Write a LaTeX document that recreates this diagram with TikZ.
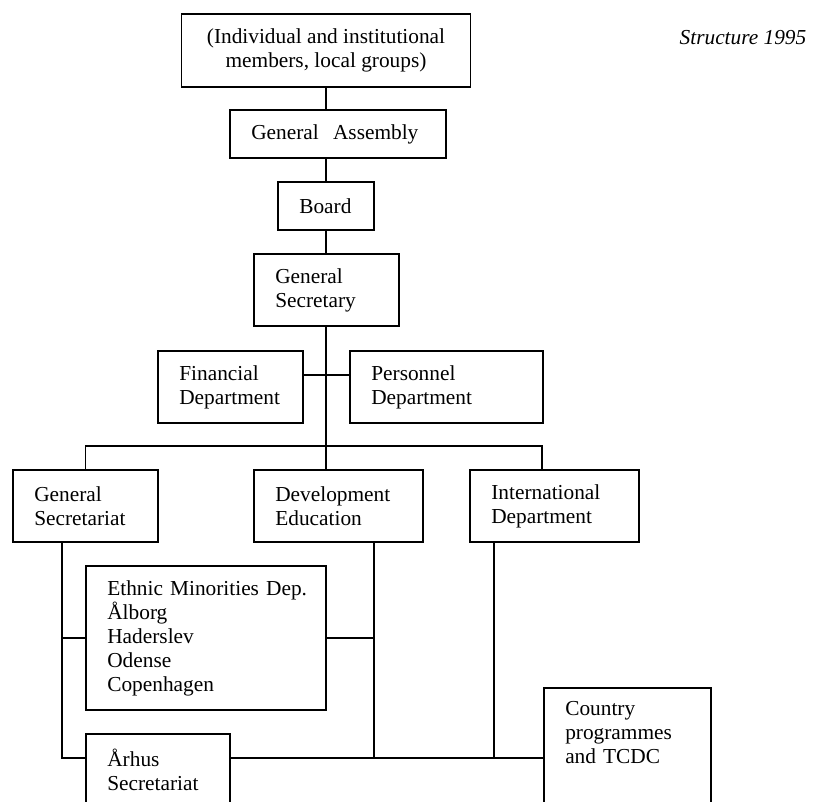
\documentclass[tikz,border=0pt]{standalone}
\usepackage{fontspec}
\setmainfont{Liberation Serif}
\usetikzlibrary{positioning}

\begin{document}
\begin{tikzpicture}[
    x=0.75pt, y=-0.75pt,
    font=\fontsize{16}{18}\selectfont,
    box/.style={draw, line width=1.4pt, align=left, inner xsep=16pt,
      inner ysep=0pt, minimum height=54pt},
    link/.style={line width=1.4pt}
]
\clip (0,0) rectangle (814,802);
\node[box, align=center, minimum width=216.75pt, minimum height=54.75pt] (mem) at (326,50.5)
  {(Individual and institutional\\members, local groups)};
\node[box, text width=130pt, minimum height=36pt] (ga)   at (338,134)   {General\ \ Assembly};
\node[box, text width=40pt, minimum height=36pt]  (brd)  at (326,206)   {Board};
\node[box, text width=76.75pt]  (gsec) at (326.5,290) {General\\Secretary};
\node[box, text width=76.75pt]  (fin)  at (230.5,387) {Financial\\Department};
\node[box, text width=112.75pt] (pers) at (446.5,387) {Personnel\\Department};
\node[box, text width=76.75pt]  (gsat) at (85.5,506)  {General\\Secretariat};
\node[box, text width=94.75pt]  (dev)  at (338.5,506) {Development\\Education};
\node[box, text width=94.75pt]  (intl) at (554.5,506) {International\\Department};
\node[box, text width=148pt, minimum height=108pt] (eth) at (206,638)
  {\mbox{Ethnic Minorities Dep.}\\Ålborg\\Haderslev\\Odense\\Copenhagen};
\node[box, text width=76pt]     (arh)  at (158,770)   {Århus\\Secretariat};
\node[box, text width=93.25pt, anchor=north west, inner ysep=10pt, text depth=60pt] (ctry) at (543,687)
  {Country\\programmes\\and TCDC};
\node[anchor=base east, font=\fontsize{16}{18}\selectfont\itshape] (yr) at (811,45) {Structure 1995};
% junctions
\coordinate (fj)  at (326,375);
\coordinate (bar) at (542,446);
\coordinate (sgL) at (62,758);
\coordinate (deL) at (374,758);
\coordinate (inL) at (494,758);
\draw[link] (mem.south) -- (mem.south |- ga.north);
\draw[link] (brd.north) -- (brd.north |- ga.south);
\draw[link] (brd.south) -- (brd.south |- gsec.north);
\draw[link] (brd.south |- gsec.south) -- (brd.south |- dev.north);
\draw[link] (fin.east |- fj) -- (pers.west |- fj);
\draw[link] (gsat.north) |- (bar) -- (bar |- intl.north);
\draw[link] (sgL |- gsat.south) -- (sgL) -- (arh.west |- sgL);
\draw[link] (sgL |- eth.west) -- (eth.west);
\draw[link] (eth.east) -- (deL |- eth.east);
\draw[link] (deL |- dev.south) -- (deL);
\draw[link] (inL |- intl.south) -- (inL);
\draw[link] (arh.east |- sgL) -- (ctry.west |- sgL);
\end{tikzpicture}
\end{document}
